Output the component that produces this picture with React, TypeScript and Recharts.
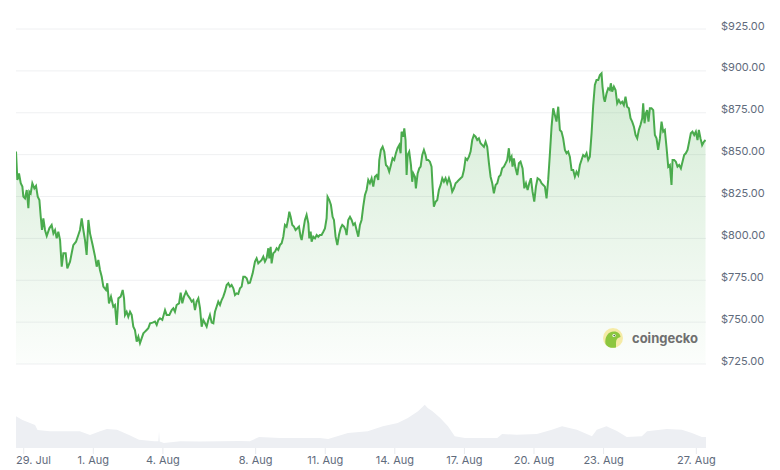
import React from 'react';
import { ComposedChart, Area, XAxis, YAxis, CartesianGrid } from 'recharts';

// hours since 29 Jul 00:00
const hours = [
  -8, -6.6, -4.9, -3.1, -1.4, -0.4, 1.3, 3.1, 4.8, 5.8, 7.2, 8.9, 11.0, 12.7, 14.5, 16.2, 17.6, 18.9, 20.3, 22.0,
  23.8, 26.5, 28.9, 30.7, 32.4, 34.1, 35.8, 37.6, 39.3, 41.0, 43.4, 45.1, 47.9, 49.6, 51.3, 54.1, 56.5, 58.2, 60.0, 61.7,
  63.4, 65.1, 66.9, 68.6, 71.3, 73.8, 75.5, 77.2, 78.9, 80.7, 82.4, 85.1, 86.5, 88.2, 90.3, 92.7, 94.4, 96.2, 97.9, 100.3,
  102.4, 103.8, 104.8, 106.5, 108.2, 110.0, 111.7, 113.4, 115.1, 116.9, 118.6, 120.3, 122.0, 123.8, 125.5, 127.2, 128.9, 130.7, 133.4, 135.8,
  137.6, 139.3, 141.0, 143.4, 146.2, 147.9, 150.7, 153.1, 154.8, 156.5, 158.2, 160.7, 162.4, 164.1, 165.8, 167.9, 169.6, 172.0, 173.8, 175.5,
  177.2, 178.9, 180.7, 182.4, 184.1, 185.8, 187.6, 189.3, 191.0, 192.7, 194.5, 196.2, 197.9, 199.6, 201.3, 203.1, 204.8, 206.5, 208.2, 210.0,
  211.7, 213.4, 215.1, 216.9, 218.6, 220.3, 222.0, 223.8, 225.5, 227.2, 228.9, 230.7, 232.4, 234.1, 236.9, 239.3, 241.0, 242.7, 244.4, 246.2,
  247.9, 249.6, 251.3, 253.1, 254.1, 255.5, 256.5, 258.2, 260.0, 261.7, 263.4, 265.1, 266.9, 268.6, 270.3, 272.0, 273.8, 274.8, 276.2, 277.9,
  279.6, 281.3, 283.1, 284.8, 286.5, 287.6, 289.3, 291.0, 292.7, 294.5, 295.5, 296.9, 297.9, 299.6, 301.4, 303.1, 304.8, 306.5, 308.2, 310.0,
  311.7, 313.4, 314.4, 316.2, 317.9, 319.6, 321.0, 322.7, 324.5, 326.2, 327.9, 329.6, 331.4, 333.1, 334.1, 335.8, 337.6, 339.3, 341.0, 342.7,
  344.4, 346.2, 347.9, 349.6, 351.3, 353.1, 354.8, 356.5, 358.2, 360.0, 361.7, 363.4, 365.2, 366.9, 367.9, 369.6, 371.4, 373.1, 374.8, 376.5,
  378.2, 380.0, 381.7, 383.4, 385.1, 386.8, 388.6, 390.0, 391.0, 392.7, 393.8, 395.1, 396.2, 397.2, 398.9, 400.7, 402.0, 403.1, 404.8, 405.8,
  407.6, 409.3, 410.7, 412.4, 414.1, 415.8, 416.9, 418.6, 420.3, 422.0, 423.1, 424.4, 426.2, 427.9, 429.6, 431.4, 433.1, 434.8, 436.5, 438.2,
  440.0, 441.7, 443.4, 445.2, 446.9, 448.6, 450.3, 452.1, 453.8, 455.5, 457.2, 458.9, 460.7, 462.4, 464.1, 465.8, 467.6, 469.3, 471.0, 472.7,
  474.5, 476.2, 477.9, 479.6, 481.4, 483.1, 484.8, 486.5, 488.3, 490.0, 491.7, 493.4, 495.1, 496.9, 498.6, 500.3, 502.0, 503.1, 504.8, 505.8,
  507.2, 508.6, 510.7, 512.4, 514.1, 516.2, 518.0, 519.7, 521.4, 523.1, 524.8, 526.5, 528.3, 530.0, 531.7, 534.1, 535.8, 537.6, 539.3, 541.0,
  542.7, 544.5, 546.2, 547.9, 549.6, 551.3, 553.1, 554.8, 556.5, 558.2, 560.0, 561.7, 563.4, 565.1, 566.9, 568.6, 570.3, 572.0, 573.8, 575.5,
  577.2, 578.9, 580.7, 582.4, 584.1, 585.8, 587.6, 589.3, 591.0, 592.7, 594.5, 596.2, 597.9, 598.9, 600.3, 601.3, 603.1, 604.8, 606.5, 607.5,
  608.9, 610.7, 612.4, 614.1, 615.8, 617.6, 619.3, 621.0, 622.7, 624.4, 626.2, 627.9, 629.6, 631.4, 633.1, 634.8, 636.5, 638.2, 640.0, 641.0,
  642.4, 643.8, 645.1, 646.5, 647.9, 649.6, 651.4, 653.1, 654.8, 656.5, 658.3, 660.0, 661.7, 663.4, 665.1, 666.9, 668.6, 670.3, 671.4, 673.1,
  674.8, 676.5, 678.2, 680.0, 681.7, 683.4, 685.1, 686.9, 688.6, 690.3, 692.0, 693.8, 695.5, 697.2, 698.6, 700.3, 702.0, 703.8, 705.5,
];

const prices = [
  851.8, 834.9, 838.8, 832.9, 830.9, 824.9, 823.9, 828.9, 818.0, 827.9, 826.9, 832.9, 829.9, 831.3, 824.9, 822.9, 812.9, 805.0, 812.0, 805.0,
  801.4, 806.0, 808.0, 803.0, 805.0, 800.0, 804.0, 799.0, 783.1, 791.1, 791.1, 782.1, 786.1, 791.1, 796.0, 798.0, 802.0, 805.0, 812.0, 805.0,
  799.0, 790.1, 811.0, 803.0, 796.0, 789.1, 783.1, 787.1, 781.1, 777.1, 771.2, 769.2, 773.2, 761.2, 765.2, 759.2, 760.2, 748.3, 764.2, 765.2,
  769.2, 764.2, 754.3, 756.2, 753.2, 756.2, 754.3, 747.3, 745.3, 738.3, 741.3, 737.4, 740.3, 743.3, 744.3, 745.3, 746.3, 749.3, 749.7, 750.3,
  748.3, 751.3, 752.3, 751.3, 757.2, 754.3, 754.3, 757.2, 758.3, 756.2, 760.2, 761.2, 767.6, 761.2, 765.2, 768.2, 766.2, 764.2, 762.2, 763.2,
  757.2, 762.2, 764.2, 758.3, 747.3, 751.3, 749.3, 747.3, 751.3, 754.3, 749.7, 749.3, 756.2, 759.2, 762.2, 760.2, 763.2, 765.2, 768.2, 772.2,
  773.2, 771.2, 772.2, 770.2, 766.2, 767.2, 766.8, 770.2, 771.2, 777.1, 777.1, 776.2, 773.2, 773.5, 779.1, 786.1, 788.1, 785.1, 786.1, 787.1,
  789.1, 786.1, 788.1, 794.1, 788.1, 795.0, 785.1, 791.1, 792.1, 794.1, 793.1, 796.0, 797.1, 801.0, 808.0, 807.0, 812.0, 815.9, 812.9, 808.0,
  807.0, 805.0, 806.0, 807.0, 801.0, 799.0, 805.0, 811.0, 814.0, 809.0, 800.0, 804.0, 798.0, 801.0, 800.0, 802.0, 801.0, 802.0, 802.0, 804.0,
  806.0, 812.0, 824.9, 822.9, 819.9, 812.9, 811.0, 801.0, 796.0, 802.0, 806.0, 808.0, 807.0, 805.0, 802.0, 811.0, 812.9, 811.0, 808.0, 809.0,
  805.0, 801.0, 808.0, 811.0, 818.9, 825.9, 828.9, 834.9, 832.9, 835.9, 830.9, 836.8, 837.8, 834.9, 846.8, 852.8, 854.7, 851.8, 843.8, 842.8,
  839.8, 843.8, 847.8, 846.8, 850.8, 853.8, 855.7, 850.8, 863.7, 860.7, 865.7, 858.7, 837.8, 849.8, 851.8, 843.8, 833.8, 838.8, 836.8, 829.9,
  838.8, 841.8, 842.8, 849.8, 852.8, 849.8, 846.8, 846.8, 845.8, 842.8, 830.9, 818.9, 821.9, 822.9, 828.9, 831.9, 835.9, 833.8, 835.9, 832.9,
  835.9, 832.9, 827.9, 829.9, 832.9, 833.8, 834.9, 835.9, 836.8, 840.8, 847.8, 846.8, 848.8, 851.8, 858.7, 861.7, 860.7, 858.7, 859.7, 856.8,
  855.7, 854.7, 857.7, 854.7, 844.8, 836.8, 832.9, 826.9, 831.9, 832.9, 836.8, 837.8, 841.8, 842.8, 844.8, 846.8, 853.8, 846.8, 848.8, 842.8,
  847.8, 842.8, 837.8, 844.8, 845.8, 841.8, 829.9, 832.9, 828.9, 832.9, 835.9, 827.9, 821.9, 830.9, 835.9, 834.9, 832.9, 831.9, 830.9, 823.9,
  834.9, 850.8, 866.7, 877.7, 873.7, 869.7, 878.6, 864.7, 863.7, 859.7, 852.8, 850.8, 851.8, 848.8, 840.8, 840.8, 836.8, 839.8, 837.8, 843.8,
  846.8, 849.8, 848.8, 850.8, 846.8, 848.8, 862.7, 879.6, 891.6, 894.6, 894.6, 897.5, 898.5, 890.6, 883.6, 881.6, 886.6, 889.6, 888.6, 892.6,
  887.6, 890.6, 888.6, 880.6, 882.6, 880.6, 881.6, 879.6, 884.6, 878.6, 877.7, 871.7, 869.7, 866.7, 861.7, 859.7, 864.7, 867.7, 871.7, 880.6,
  868.7, 874.7, 876.6, 869.7, 877.7, 877.7, 876.6, 861.7, 859.7, 852.8, 859.7, 869.7, 863.7, 864.7, 854.7, 842.8, 843.8, 831.9, 846.8, 846.8,
  845.8, 842.8, 843.8, 841.8, 845.8, 849.8, 850.8, 852.8, 857.7, 862.7, 863.7, 861.7, 863.7, 858.7, 864.7, 859.7, 855.7, 857.7, 858.7,
];

const volumeHours = [
  -8, -1.3, 11.7, 14.3, 27, 42.7, 58, 68.6, 79, 86, 96.5, 109, 119.3, 135, 139.3, 140, 140.7, 145, 162, 182,
  203, 224, 234, 243.5, 265, 286, 306.5, 315, 335.5, 356, 371.6, 387, 397.5, 408, 415, 418, 423, 431, 439, 446,
  456.5, 472, 490, 495, 510, 531, 546.5, 557, 572.4, 588, 593, 603, 613.8, 624, 639.6, 645, 665.5, 681, 691.4, 701.7, 706,
];
const volumes = [
  127, 112, 92, 72, 67, 67, 67, 52, 67, 76, 73, 52, 33, 27, 27, 67, 26, 20, 27, 26,
  27, 28, 27, 44, 40, 40, 40, 36, 60, 67, 87, 100, 120, 147, 173, 160, 147, 120, 87, 47,
  40, 40, 40, 56, 53, 56, 73, 87, 73, 47, 73, 87, 68, 44, 47, 67, 76, 73, 60, 44, 44,
];

const priceTicks = [725, 750, 775, 800, 825, 850, 875, 900, 925];
const dateTicks = [0, 72, 144, 240, 312, 384, 456, 528, 600, 696];
const dateLabels = ['29. Jul', '1. Aug', '4. Aug', '8. Aug', '11. Aug', '14. Aug', '17. Aug', '20. Aug', '23. Aug', '27. Aug'];

const W = 780;
const PLOT_LEFT = 16;
const AXIS_W = 74;
const X_DOMAIN: [number, number] = [-8, 706];
const FONT = 'Inter, "Noto Sans", sans-serif';
const LABEL = '#5f6b7c';
const GREEN = '#4aab4d';

const priceData = hours.map((h, i) => ({ h, p: prices[i] }));
const volumeData = volumeHours.map((h, i) => ({ h, v: volumes[i] }));

function PriceTick(props: any) {
  const { y, payload } = props;
  return (
    <text x={W - AXIS_W + 15} y={y + 0.5} fill={LABEL} fontSize={11} fontFamily={FONT} textAnchor="start">
      {'$' + Number(payload.value).toFixed(2)}
    </text>
  );
}

function DateTick(props: any) {
  const { x, y, payload, index } = props;
  const label = dateLabels[dateTicks.indexOf(payload.value)];
  const first = index === 0;
  return (
    <text
      x={first ? PLOT_LEFT : x}
      y={y}
      dy="0.71em"
      fill={LABEL}
      fontSize={11}
      fontFamily={FONT}
      textAnchor={first ? 'start' : 'middle'}
    >
      {label}
    </text>
  );
}

export default function App() {
  return (
    <div style={{ position: 'absolute', left: 0, top: 0, width: W, height: 470, background: '#fff' }}>
      <div style={{ position: 'absolute', left: 0, top: 0 }}>
        <ComposedChart width={W} height={370} data={priceData} margin={{ top: 29, right: 0, bottom: 6, left: PLOT_LEFT }}>
          <defs>
            <linearGradient id="priceFill" x1="0" y1="0" x2="0" y2="1">
              <stop offset="0%" stopColor="#4caf50" stopOpacity={0.24} />
              <stop offset="100%" stopColor="#4caf50" stopOpacity={0.02} />
            </linearGradient>
          </defs>
          <CartesianGrid vertical={false} stroke="#eff0f2" />
          <XAxis dataKey="h" type="number" domain={X_DOMAIN} hide allowDataOverflow />
          <YAxis
            orientation="right"
            width={AXIS_W}
            domain={[725, 925]}
            ticks={priceTicks}
            interval={0}
            axisLine={false}
            tickLine={false}
            tick={<PriceTick />}
          />
          <Area
            dataKey="p"
            type="linear"
            stroke={GREEN}
            strokeWidth={2}
            fill="url(#priceFill)"
            fillOpacity={1}
            dot={false}
            activeDot={false}
            isAnimationActive={false}
          />
        </ComposedChart>
      </div>
      <div style={{ position: 'absolute', left: 0, top: 380 }}>
        <ComposedChart width={W} height={90} data={volumeData} margin={{ top: 0, right: AXIS_W, bottom: 0, left: PLOT_LEFT }}>
          <XAxis
            dataKey="h"
            type="number"
            domain={X_DOMAIN}
            ticks={dateTicks}
            interval={0}
            height={22}
            axisLine={false}
            tickLine={{ stroke: '#e8eaee' }}
            tickSize={6}
            tick={<DateTick />}
            allowDataOverflow
          />
          <YAxis hide domain={[0, 272]} />
          <Area dataKey="v" type="linear" stroke="none" fill="#edeff3" fillOpacity={1} dot={false} activeDot={false} isAnimationActive={false} />
        </ComposedChart>
      </div>
      <div style={{ position: 'absolute', left: 602, top: 327 }}>
        <svg width={100} height={24}>
          <circle cx={11} cy={11} r={10} fill="#f5eba6" />
          <path d="M3.5,17 C2.5,10 6,4.5 12,4.5 C16,4.5 18.5,7 18.5,10 C15.5,10.5 14,12.5 14,15.5 L14,20.5 C10,21.5 5.5,20.5 3.5,17 Z" fill="#8cc63f" />
          <circle cx={12} cy={8.5} r={1.6} fill="#fff" />
          <circle cx={12.2} cy={8.6} r={0.8} fill="#4a5a3a" />
          <text x={30} y={15.5} fontSize={13} fontWeight={700} fontFamily={FONT} fill="#6f6f6f">coingecko</text>
        </svg>
      </div>
    </div>
  );
}
